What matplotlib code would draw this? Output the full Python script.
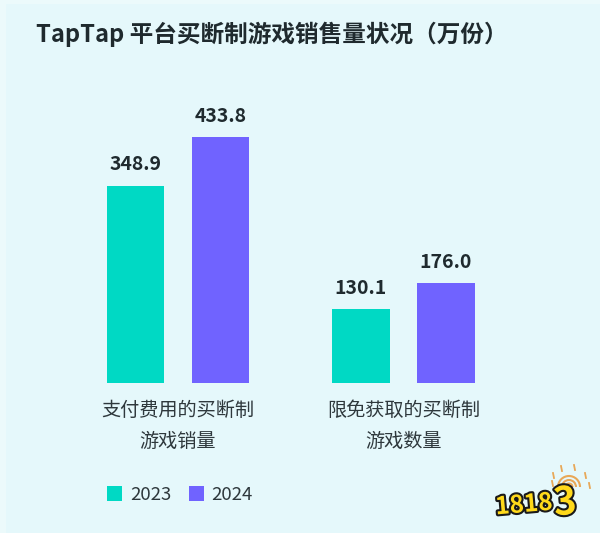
import matplotlib
matplotlib.use('Agg')
import matplotlib.pyplot as plt
import matplotlib.patheffects as pe
from matplotlib.patches import Arc
import numpy as np

plt.rcParams['font.family'] = ['Noto Sans CJK SC', 'DejaVu Sans']

# Data
categories = ['支付费用的买断制\n游戏销量', '限免获取的买断制\n游戏数量']
values_2023 = [348.9, 130.1]
values_2024 = [433.8, 176.0]
years = ['2023', '2024']

BG = '#E5F8FB'
EDGE = '#ECFAFB'
TEAL = '#00D9C4'
PURPLE = '#7063FF'
DARK = '#1F2A2E'
SUN = '#E8A858'

fig = plt.figure(figsize=(6, 5.33), dpi=100, facecolor=EDGE)

# inner panel, the picture has a slightly lighter rim
fig.patches.append(plt.Rectangle((6 / 600, 0), 594 / 600, 529 / 533, transform=fig.transFigure,
                                 facecolor=BG, edgecolor='none', zorder=-1))

# axes run the full width, bottom edge sits on the bar baseline (y=383px)
ax = fig.add_axes([0, 150 / 533, 1, 383 / 533])
ax.patch.set_alpha(0)

x = np.arange(len(categories))
width = 0.255
offset = 0.1885

bars1 = ax.bar(x - offset, values_2023, width, color=TEAL, label=years[0])
bars2 = ax.bar(x + offset, values_2024, width, color=PURPLE, label=years[1])

for bars in (bars1, bars2):
    ax.bar_label(bars, fmt='%.1f', padding=8, fontsize=14, fontweight='bold', color=DARK)

ax.set_xlim(-178 / 225.5, 422 / 225.5)
ax.set_ylim(0, 383 / 0.566)
ax.set_yticks([])
ax.set_xticks(x)
ax.set_xticklabels(categories, fontsize=13.8, color='#2E383C', linespacing=1.62)
ax.tick_params(axis='x', length=0, pad=12)
for spine in ax.spines.values():
    spine.set_visible(False)

fig.text(36 / 600, 1 - 34 / 533, 'TapTap 平台买断制游戏销售量状况（万份）', fontsize=17,
         fontweight='bold', color=DARK, va='center', ha='left')

ax.legend(loc='center left', bbox_to_anchor=(107 / 600, 1 - 495 / 533), bbox_transform=fig.transFigure,
          ncol=2, frameon=False, fontsize=13.4, handlelength=0.82, handleheight=0.82,
          handletextpad=0.4, columnspacing=0.95, labelcolor='#2E383C', borderpad=0, borderaxespad=0)

# 18183 watermark, sun first so the digits sit on top of it
sun_ax = fig.add_axes([0, 0, 1, 1], zorder=3)
sun_ax.set_xlim(0, 600)
sun_ax.set_ylim(533, 0)
sun_ax.axis('off')
for d in (22, 14, 7):
    sun_ax.add_patch(Arc((569, 487), d, d, theta1=180, theta2=360, color=SUN, lw=1.5))
for rx, ry in [(553, 473), (561, 466), (574, 465), (585, 473), (589, 483), (552, 481)]:
    sun_ax.plot([rx, rx + 1], [ry, ry + 5], color=SUN, lw=1.3)

outline = [pe.withStroke(linewidth=3, foreground='#1A1A1A')]
sun_ax.text(524, 505, '1818', fontsize=17.5, fontweight='black', color='#FFD91A',
            ha='center', va='center', rotation=5, path_effects=outline)
sun_ax.text(565, 503, '3', fontsize=28, fontweight='black', color='#FFD91A',
            ha='center', va='center', rotation=5, path_effects=outline)

fig.savefig('out.png', dpi=100, facecolor=fig.get_facecolor())
